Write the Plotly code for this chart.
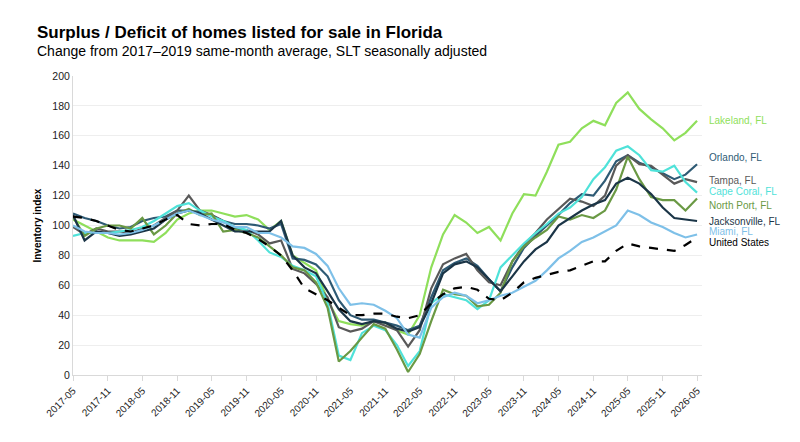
import pandas as pd
import plotly.graph_objects as go

# bimonthly readings, 2017-05 .. 2026-05
months = pd.date_range("2017-05-01", "2026-05-01", freq="2MS")

lakeland = [104, 100, 96, 92, 90, 90, 90, 89, 95, 104,
            108, 110, 110, 108, 106, 107, 104, 97, 103, 80,
            75, 70, 50, 36, 34, 33, 36, 35, 30, 27,
            40, 72, 94, 107, 102, 95, 99, 90, 108, 121,
            120, 136, 154, 156, 165, 170, 167, 182, 189, 178,
            171, 165, 157, 162, 170]
orlando = [108, 105, 103, 100, 98, 99, 103, 105, 106, 110,
           110, 109, 107, 103, 101, 101, 100, 98, 101, 78,
           77, 74, 66, 50, 40, 37, 37, 35, 33, 30,
           33, 52, 70, 75, 78, 73, 64, 56, 72, 85,
           93, 100, 107, 115, 121, 120, 130, 143, 147, 142,
           139, 135, 131, 134, 141]
tampa = [99, 94, 98, 96, 96, 95, 98, 100, 105, 110,
         120, 110, 107, 103, 98, 97, 94, 88, 90, 71,
         68, 61, 52, 32, 29, 31, 36, 33, 30, 19,
         30, 58, 74, 78, 81, 70, 62, 60, 76, 87,
         95, 104, 111, 118, 116, 113, 120, 140, 147, 141,
         140, 134, 128, 131, 129]
cape_coral = [93, 95, 95, 95, 96, 97, 99, 103, 108, 113,
              115, 110, 106, 103, 99, 97, 90, 82, 79, 73,
              70, 66, 48, 13, 10, 28, 33, 30, 20, 6,
              16, 48, 54, 52, 50, 44, 50, 72, 80, 88,
              95, 101, 108, 112, 119, 131, 139, 150, 153, 147,
              137, 136, 140, 129, 122]
north_port = [106, 93, 98, 100, 100, 98, 105, 94, 100, 108,
              111, 107, 108, 96, 97, 95, 92, 86, 80, 72,
              70, 62, 45, 9, 16, 25, 34, 31, 17, 2,
              14, 36, 57, 54, 53, 46, 47, 55, 76, 86,
              92, 97, 106, 104, 107, 105, 110, 124, 146, 131,
              119, 117, 117, 110, 118]
jacksonville = [107, 90, 96, 95, 93, 94, 96, 98, 104, 108,
                110, 108, 104, 100, 96, 96, 96, 96, 103, 80,
                72, 68, 56, 44, 36, 34, 36, 35, 31, 29,
                32, 48, 68, 74, 76, 72, 64, 56, 66, 76,
                84, 89, 100, 105, 110, 114, 117, 128, 132, 128,
                121, 112, 105, 104, 103]
miami = [100, 96, 95, 95, 94, 95, 97, 100, 104, 108,
         110, 107, 104, 102, 99, 99, 95, 95, 92, 86,
         85, 81, 73, 58, 47, 48, 47, 43, 38, 27,
         25, 45, 52, 55, 53, 48, 50, 53, 55, 59,
         63, 70, 78, 83, 89, 92, 96, 100, 110, 107,
         102, 99, 95, 92, 94]
united_states = [106, 105, 103, 100, 97, 96, 98, 100, 104, 107,
                 101, 100, 101, 101, 97, 95, 91, 86, 80, 70,
                 58, 54, 50, 45, 40, 40, 41, 41, 39, 38,
                 40, 48, 54, 58, 59, 57, 51, 50, 55, 62,
                 65, 67, 69, 70, 73, 76, 76, 83, 88, 86,
                 85, 84, 83, 87, 92]

series = [
    ("Lakeland, FL", lakeland, "#8FDF5B", 170),
    ("Orlando, FL", orlando, "#2E5A74", 145.8),
    ("Tampa, FL", tampa, "#595959", 130.4),
    ("Cape Coral, FL", cape_coral, "#4FE2D9", 123),
    ("North Port, FL", north_port, "#6A9944", 113.7),
    ("Jacksonville, FL", jacksonville, "#1B3547", 103),
    ("Miami, FL", miami, "#7EC0E8", 95.7),
    ("United States", united_states, "#000000", 88.3),
]

tick_vals = pd.date_range("2017-05-01", "2026-05-01", freq="6MS")
tick_text = [d.strftime("%Y-%m") for d in tick_vals]

fig = go.Figure()
annotations = []
for name, vals, color, label_y in series:
    dash = "dash" if name == "United States" else "solid"
    fig.add_trace(go.Scatter(
        x=months, y=vals, name=name, mode="lines",
        line=dict(color=color, width=2.2, dash=dash),
    ))
    annotations.append(dict(
        x=1.008, xref="paper", y=label_y, yref="y",
        text=name, showarrow=False, xanchor="left", yanchor="middle",
        font=dict(size=10, color=color),
    ))

annotations.append(dict(
    x=-0.0604, xref="paper", y=1.144, yref="paper",
    text="<b>Surplus / Deficit of homes listed for sale in Florida</b>",
    showarrow=False, xanchor="left", yanchor="middle",
    font=dict(size=17, color="#000000"),
))
annotations.append(dict(
    x=-0.0604, xref="paper", y=1.0836, yref="paper",
    text="Change from 2017\u20132019 same-month average, SLT seasonally adjusted",
    showarrow=False, xanchor="left", yanchor="middle",
    font=dict(size=14, color="#000000"),
))
annotations.append(dict(
    x=-0.0572, xref="paper", y=0.5, yref="paper",
    text="<b>Inventory index</b>", textangle=-90,
    showarrow=False, xanchor="center", yanchor="middle",
    font=dict(size=10, color="#000000"),
))

# page body adds an 8px offset, so the figure is a little smaller than the window
fig.update_layout(
    width=792, height=434,
    margin=dict(l=65, r=98, t=68, b=67),
    paper_bgcolor="white", plot_bgcolor="white",
    font=dict(family="Liberation Sans, Arial, sans-serif", size=10, color="#222"),
    showlegend=False,
    annotations=annotations,
)
fig.update_xaxes(
    range=["2017-05-01", "2026-05-27"],
    tickvals=tick_vals, ticktext=tick_text, tickangle=-45,
    showgrid=False, showline=True, linecolor="#d9d9d9", linewidth=1,
    ticks="outside", ticklen=5, tickcolor="#d9d9d9",
    tickfont=dict(size=10, color="#222"),
)
fig.update_yaxes(
    range=[0, 200], dtick=20,
    showgrid=True, gridcolor="#eeeeee", gridwidth=1,
    showline=True, linecolor="#d9d9d9", linewidth=1,
    zeroline=False, ticks="", tickfont=dict(size=10.5, color="#222"),
)

fig.write_html("out.html")
